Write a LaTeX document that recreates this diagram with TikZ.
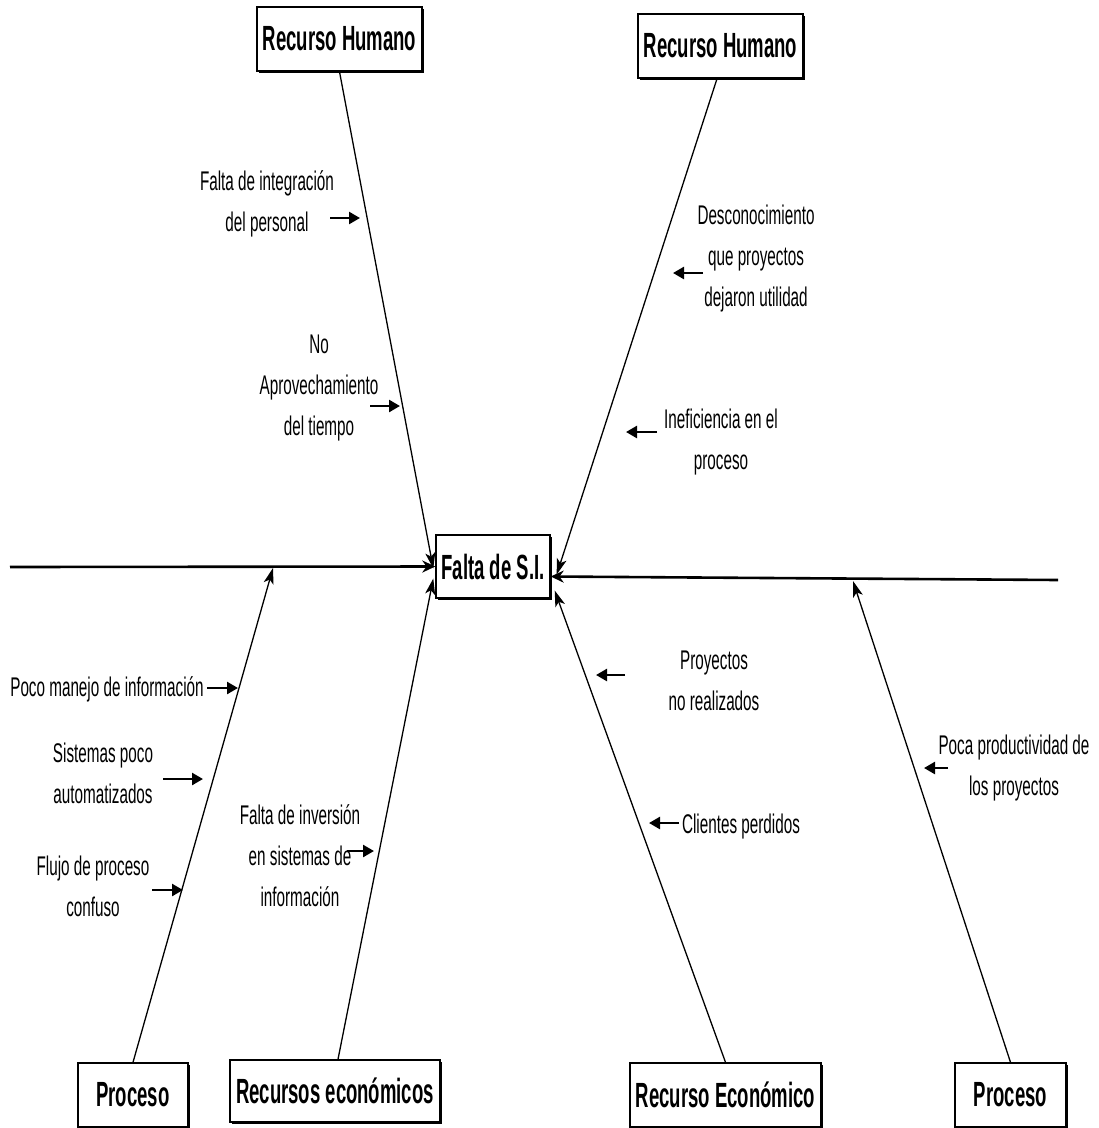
\documentclass[tikz,border=0pt]{standalone}
\usepackage{fontspec}
\setmainfont{Liberation Sans}[FakeStretch=0.565]
\newfontfamily\headfont{Liberation Sans}[FakeStretch=0.53]
\usetikzlibrary{arrows.meta,shadows}

\begin{document}
\begin{tikzpicture}[x=1pt,y=-1pt,
  catbox/.style={draw, line width=1.4pt, fill=white, minimum width=#1,
    minimum height=64pt, inner sep=0pt,
    font=\headfont\bfseries\fontsize{35}{40}\selectfont,
    general shadow={shadow xshift=1.5pt, shadow yshift=-1.5pt, fill=black}},
  cause/.style={align=center, inner sep=0pt, font=\fontsize{27}{41}\selectfont},
  spine/.style={line width=2.6pt, -{Stealth[length=13pt,width=12pt]}},
  bone/.style={line width=1.3pt, -{Stealth[length=16pt,width=10pt,inset=4pt]}},
  tick/.style={line width=2.5pt, -{Triangle[length=11pt,width=12pt]}},
]
\useasboundingbox (0,0) rectangle (1099,1128);

% effect and category boxes
\node[catbox=114pt, minimum height=63pt] (eff) at (493,566.5) {Falta de S.I.};
\node[catbox=165pt] (rh1) at (339.5,39) {Recurso Humano};
\node[catbox=165pt] (rh2) at (720.5,46) {Recurso Humano};
\node[catbox=110pt] (pl) at (133,1095) {Proceso};
\node[catbox=210pt, minimum height=62pt] (rel) at (335,1091) {Recursos económicos};
\node[catbox=191pt] (rer) at (725.5,1095) {Recurso Económico};
\node[catbox=111pt] (pr) at (1010.5,1095) {Proceso};

% spine
\coordinate (sl) at (10,567);
\coordinate (sr) at (1058,580);
\coordinate (hitL) at (273,568);
\coordinate (hitR) at (853,581);
\draw[spine] (sl) -- (eff.west);
\draw[spine] (sr) -- ([yshift=-10pt]eff.east);

% category bones
\draw[bone] (rh1.south) -- ([xshift=-2pt,yshift=-2pt]eff.west);
\draw[bone] ([xshift=-3.5pt]rh2.south) -- ([xshift=6pt,yshift=-8pt]eff.east);
\draw[bone] ([xshift=3pt]rel.north) -- ([xshift=-2pt,yshift=-12pt]eff.west);
\draw[bone] (rer.north) -- ([xshift=4pt,yshift=-24pt]eff.east);
\draw[bone] (pl.north) -- (hitL);
\draw[bone] (pr.north) -- (hitR);

% causes
\node[cause] (c1) at (267,204) {Falta de integración\\del personal};
\node[cause] (c2) at (319,388) {No\\Aprovechamiento\\del tiempo};
\node[cause] (c3) at (756,259) {Desconocimiento\\que proyectos\\dejaron utilidad};
\node[cause] (c4) at (721,442) {Ineficiencia en el\\proceso};
\node[cause] (c5) at (714,681) {Proyectos\\no realizados};
\node[cause] (c6) at (741,827) {Clientes perdidos};
\node[cause] (c7) at (1014,768) {Poca productividad de\\los proyectos};
\node[cause] (c8) at (107,689) {Poco manejo de información};
\node[cause] (c9) at (103,773) {Sistemas poco\\automatizados};
\node[cause] (c10) at (93,886) {Flujo de proceso\\confuso};
\node[cause] (c11) at (300,856) {Falta de inversión\\en sistemas de\\información};

% cause arrows
\coordinate (a1) at (330,218);  \coordinate (b1) at (360,218);
\coordinate (a2) at (370,406);  \coordinate (b2) at (400,406);
\coordinate (a3) at (703,273);  \coordinate (b3) at (673,273);
\coordinate (a4) at (657,432);  \coordinate (b4) at (626,432);
\coordinate (a5) at (625,675);  \coordinate (b5) at (596,675);
\coordinate (a6) at (679,823);  \coordinate (b6) at (649,823);
\coordinate (a7) at (948,768);  \coordinate (b7) at (924,768);
\coordinate (a8) at (207,688);  \coordinate (b8) at (238,688);
\coordinate (a9) at (163,779);  \coordinate (b9) at (203,779);
\coordinate (a10) at (152,890); \coordinate (b10) at (183,890);
\coordinate (a11) at (347,851); \coordinate (b11) at (374,851);
\foreach \i in {1,...,11} {\draw[tick] (a\i) -- (b\i);}
\end{tikzpicture}
\end{document}
